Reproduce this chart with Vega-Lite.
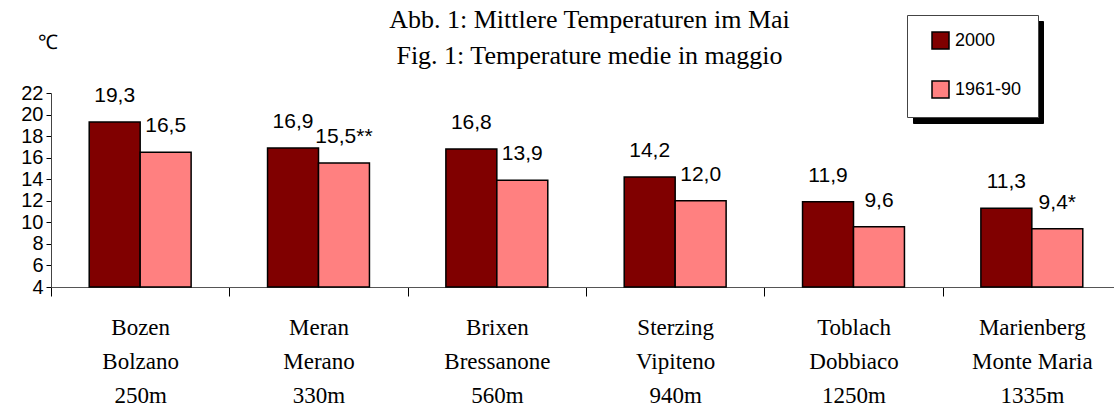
{
  "$schema": "https://vega.github.io/schema/vega-lite/v6.json",
  "width": 1063,
  "height": 194,
  "autosize": {"type": "none"},
  "padding": {"left": 51, "top": 93, "right": 0, "bottom": 119},
  "background": "white",
  "title": {
    "text": ["Abb. 1: Mittlere Temperaturen im Mai", "Fig. 1: Temperature medie in maggio"],
    "font": "Liberation Serif",
    "fontSize": 26,
    "fontWeight": "normal",
    "color": "black",
    "lineHeight": 36,
    "anchor": "middle",
    "frame": "group",
    "dx": 7,
    "offset": -54
  },
  "data": {
    "values": [
      {"station": "Bozen|Bolzano|250m", "period": "2000", "value": 19.3, "label": "19,3"},
      {"station": "Bozen|Bolzano|250m", "period": "1961-90", "value": 16.5, "label": "16,5"},
      {"station": "Meran|Merano|330m", "period": "2000", "value": 16.9, "label": "16,9"},
      {"station": "Meran|Merano|330m", "period": "1961-90", "value": 15.5, "label": "15,5**"},
      {"station": "Brixen|Bressanone|560m", "period": "2000", "value": 16.8, "label": "16,8"},
      {"station": "Brixen|Bressanone|560m", "period": "1961-90", "value": 13.9, "label": "13,9"},
      {"station": "Sterzing|Vipiteno|940m", "period": "2000", "value": 14.2, "label": "14,2"},
      {"station": "Sterzing|Vipiteno|940m", "period": "1961-90", "value": 12.0, "label": "12,0"},
      {"station": "Toblach|Dobbiaco|1250m", "period": "2000", "value": 11.9, "label": "11,9"},
      {"station": "Toblach|Dobbiaco|1250m", "period": "1961-90", "value": 9.6, "label": "9,6"},
      {"station": "Marienberg|Monte Maria|1335m", "period": "2000", "value": 11.3, "label": "11,3"},
      {"station": "Marienberg|Monte Maria|1335m", "period": "1961-90", "value": 9.4, "label": "9,4*"}
    ]
  },
  "encoding": {
    "x": {
      "field": "station",
      "type": "nominal",
      "sort": null,
      "scale": {"paddingInner": 0, "paddingOuter": 0, "range": [0, 1070]},
      "axis": {
        "title": null,
        "tickBand": "extent",
        "tickSize": 9,
        "tickColor": "black",
        "tickWidth": 1,
        "domainColor": "#555",
        "domainWidth": 1,
        "labelAngle": 0,
        "labelPadding": 20,
        "labelFont": "Liberation Serif",
        "labelFontSize": 23,
        "labelColor": "black",
        "labelLineHeight": 34,
        "labelLimit": 0,
        "labelOverlap": false,
        "labelExpr": "split(datum.label, '|')"
      }
    },
    "xOffset": {
      "field": "period",
      "sort": ["2000", "1961-90"],
      "scale": {"paddingOuter": 0.75, "paddingInner": 0}
    },
    "y": {
      "field": "value",
      "type": "quantitative",
      "scale": {"domain": [4, 22], "nice": false, "zero": false},
      "axis": {
        "values": [4, 6, 8, 10, 12, 14, 16, 18, 20, 22],
        "grid": false,
        "tickSize": 5,
        "tickColor": "black",
        "domainColor": "#444",
        "labelPadding": 3,
        "labelFont": "Liberation Sans",
        "labelFontSize": 20,
        "labelColor": "black",
        "labelOverlap": false,
        "title": "℃",
        "titleAngle": 0,
        "titleX": -4,
        "titleY": -51,
        "titleAlign": "center",
        "titleBaseline": "middle",
        "titleFont": "Liberation Sans",
        "titleFontSize": 20,
        "titleFontWeight": "normal",
        "titleColor": "black"
      }
    }
  },
  "layer": [
    {
      "mark": {"type": "bar", "strokeWidth": 1.5},
      "encoding": {
        "y2": {"datum": 4},
        "fill": {
          "field": "period",
          "type": "nominal",
          "scale": {"domain": ["2000", "1961-90"], "range": ["#800000", "#FF8080"]},
          "legend": {
            "orient": "none",
            "legendX": 856,
            "legendY": -78,
            "title": null,
            "fillColor": "white",
            "strokeColor": "#444",
            "padding": 16,
            "symbolType": "square",
            "symbolSize": 289,
            "symbolStrokeWidth": 1.5,
            "symbolStrokeColor": "black",
            "symbolOffset": 8,
            "labelFont": "Liberation Sans",
            "labelFontSize": 18,
            "labelColor": "black",
            "labelOffset": 5,
            "rowPadding": 26,
            "zindex": 2
          }
        },
        "stroke": {
          "field": "period",
          "type": "nominal",
          "scale": {"domain": ["1961-90", "2000"], "range": ["black", "black"]},
          "legend": {
            "orient": "none",
            "legendX": 862,
            "legendY": -72,
            "title": null,
            "fillColor": "black",
            "strokeColor": "black",
            "padding": 16,
            "symbolType": "square",
            "symbolSize": 289,
            "symbolStrokeWidth": 1.5,
            "symbolFillColor": "black",
            "symbolOffset": 74,
            "labelExpr": "''",
            "labelFont": "Liberation Sans",
            "labelFontSize": 18,
            "labelOffset": 5,
            "rowPadding": 26,
            "zindex": 1
          }
        }
      }
    },
    {
      "mark": {"type": "text", "baseline": "middle", "align": "center", "dy": -26, "font": "Liberation Sans", "fontSize": 21, "color": "black"},
      "encoding": {
        "text": {"field": "label"}
      }
    }
  ],
  "config": {"view": {"stroke": null}}
}
